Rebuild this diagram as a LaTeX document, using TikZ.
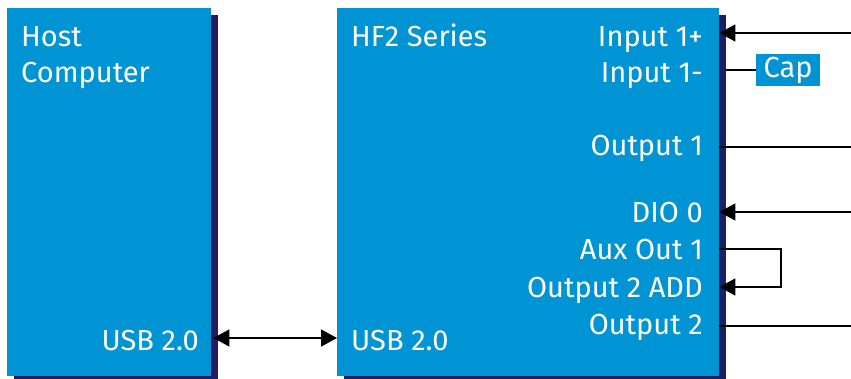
\documentclass[tikz,border=0pt]{standalone}
\usepackage{fontspec}
\setmainfont{Fira Sans}
\usetikzlibrary{positioning, arrows.meta, shadows}
\definecolor{zhblue}{RGB}{0,148,212}
\definecolor{zhnavy}{RGB}{30,30,100}

\begin{document}
\begin{tikzpicture}[
    x=1pt, y=-1pt,
    font=\fontsize{29}{34}\selectfont,
    box_node/.style={fill=zhblue, inner sep=0pt, anchor=north west,
      drop shadow={shadow xshift=7pt, shadow yshift=-7pt, fill=zhnavy, opacity=1}},
    lbl_node/.style={text=white, inner sep=0pt, anchor=base east},
    wire/.style={line width=1.6pt, black},
    tip/.style={-{Triangle[length=16pt, width=17pt]}},
    tips/.style={{Triangle[length=16pt, width=17pt]}-{Triangle[length=16pt, width=17pt]}}
    ]
    \useasboundingbox (0,0) rectangle (851,378);
    \clip (0,0) rectangle (851,378);

    % Boxes
    \node[box_node, minimum width=204pt, minimum height=368pt] (host) at (7,8) {};
    \node[box_node, minimum width=382pt, minimum height=368pt] (hf2) at (337,8) {};

    % Host labels
    \node[text=white, inner sep=0pt, anchor=base west] (hosttxt) at (21,46) {Host};
    \node[text=white, inner sep=0pt, anchor=base west] (comptxt) at (21,82) {Computer};
    \node[lbl_node] (husb) at (199,350) {USB 2.0};

    % HF2 labels
    \node[text=white, inner sep=0pt, anchor=base west] (hf2txt) at (351,46) {HF2 Series};
    \node[text=white, inner sep=0pt, anchor=base west] (dusb) at (351,350) {USB 2.0};
    \node[lbl_node] (in1p) at (703,46) {Input 1+};
    \node[lbl_node] (in1m) at (703,82) {Input 1-};
    \node[lbl_node] (out1) at (703,155) {Output 1};
    \node[lbl_node] (dio0) at (703,222) {DIO 0};
    \node[lbl_node] (aux1) at (703,259) {Aux Out 1};
    \node[lbl_node] (add2) at (703,297) {Output 2 ADD};
    \node[lbl_node] (out2) at (703,334) {Output 2};

    % Cap
    \node[fill=zhblue, text=white, inner sep=0pt, minimum width=64pt, minimum height=32pt] (cap) at (788,70) {Cap};

    % Free ends
    \coordinate (in1pend) at (851,33);
    \coordinate (out1end) at (851,147);
    \coordinate (dioend) at (851,212);
    \coordinate (out2end) at (851,326);
    \coordinate (loop) at (781,249);

    % Connectors
    \draw[wire, tips] ([xshift=2pt]host.east |- 0,338) -- (hf2.west |- 0,338);
    \draw[wire, tip] (in1pend) -- (hf2.east |- in1pend);
    \draw[wire] ([xshift=7pt]hf2.east |- cap.west) -- (cap.west);
    \draw[wire] (hf2.east |- out1end) -- (out1end);
    \draw[wire, tip] (dioend) -- (hf2.east |- dioend);
    \draw[wire, tip] (hf2.east |- loop) -- (loop) -- (loop |- 0,287) -- (hf2.east |- 0,287);
    \draw[wire] (hf2.east |- out2end) -- (out2end);
\end{tikzpicture}
\end{document}
